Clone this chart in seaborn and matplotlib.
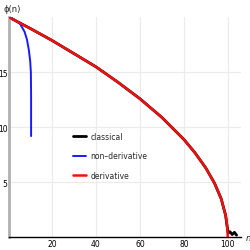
import matplotlib
matplotlib.use("Agg")
import matplotlib.pyplot as plt
import pandas as pd
import seaborn as sns

# values
n_classical = [0.5, 10, 20, 30, 40, 50, 60, 70, 80, 85, 90, 94, 97, 99, 99.6, 100.2, 101, 102, 103, 104]
phi_classical = [20, 19.0, 17.9, 16.7, 15.5, 14.1, 12.6, 10.9, 8.9, 7.7, 6.3, 4.9, 3.5, 2.0, 1.1, 0.4, 0.5, 0.25, 0.45, 0.2]

n_nonderiv = [0.5, 2, 3.5, 5.5, 7.5, 8.6, 9.5, 10.1, 10.4, 10.5, 10.5, 10.5]
phi_nonderiv = [20, 19.9, 19.7, 19.4, 18.7, 18.0, 17.0, 16.0, 15.0, 13.0, 11.0, 9.2]

n_deriv = [0.5, 10, 20, 30, 40, 50, 60, 70, 80, 85, 90, 94, 97, 99, 99.6, 100]
phi_deriv = [20, 19.0, 17.9, 16.7, 15.5, 14.1, 12.6, 10.9, 8.9, 7.7, 6.3, 4.9, 3.5, 2.0, 1.2, 0]

x_ticks = [20, 40, 60, 80, 100]
y_ticks = [5, 10, 15]

sns.set_style("white")

fig = plt.figure(figsize=(2.51, 2.51), dpi=100)
ax = fig.add_axes([9 / 251, 12.7 / 251, 232 / 251, 220 / 251])

curves = [
    (n_classical, phi_classical, "#000000", 2.0, "classical", 2),
    (n_nonderiv, phi_nonderiv, "#1a1aff", 1.4, "non\u2013derivative", 3),
    (n_deriv, phi_deriv, "#ee1111", 1.8, "derivative", 4),
]
for n, phi, color, lw, label, z in curves:
    df = pd.DataFrame({"n": n, "phi": phi})
    sns.lineplot(data=df, x="n", y="phi", color=color, linewidth=lw, label=label,
                 ax=ax, sort=False, estimator=None, zorder=z)

ax.set_xlim(0.45, 106)
ax.set_ylim(0, 20)
ax.set_xticks(x_ticks)
ax.set_yticks(y_ticks)
ax.set_xticks([v for v in range(5, 106, 5) if v not in x_ticks], minor=True)
ax.set_yticks([v for v in range(1, 20) if v not in y_ticks], minor=True)
ax.grid(True, which="major", color="#ebebeb", lw=0.8)
ax.set_axisbelow(True)

ax.tick_params(axis="both", which="major", direction="in", length=3, width=0.6,
               labelsize=5.5, pad=1, colors="black")
ax.tick_params(axis="both", which="minor", direction="in", length=1.5, width=0.5)
ax.tick_params(axis="y", which="both", color="#888888")

for side in ["top", "right"]:
    ax.spines[side].set_visible(False)
ax.spines["left"].set_color("#b0b0b0")
ax.spines["left"].set_linewidth(2)
ax.spines["bottom"].set_color("black")
ax.spines["bottom"].set_linewidth(1)

ax.set_xlabel("")
ax.set_ylabel("")
fig.text(12 / 251, 1 - 10 / 251, "\u03d5(n)", fontsize=6, ha="center", va="center")
fig.text(248 / 251, 1 - 239 / 251, "n", fontsize=6, style="italic", ha="center", va="center")

ax.legend(loc="center left", bbox_to_anchor=(0.248, 0.37), frameon=False, fontsize=5.5,
          handlelength=1.7, handletextpad=0.5, labelspacing=1.4)

fig.savefig("out.png", dpi=100)
